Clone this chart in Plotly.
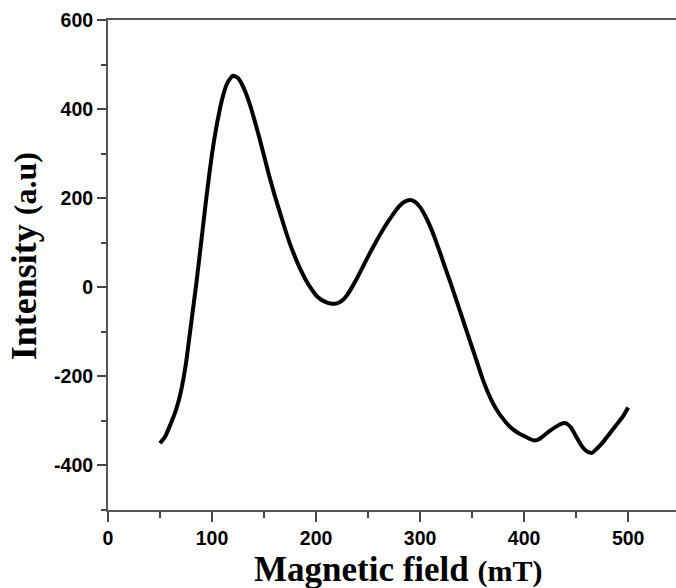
import plotly.graph_objects as go

field_mT = [50, 55, 60, 65, 70, 75, 80, 85, 90, 95, 100, 105, 110, 115, 120, 125, 130, 135, 140, 145,
            150, 155, 160, 165, 170, 175, 180, 185, 190, 195, 200, 205, 210, 215, 220, 225, 230, 235, 240, 245,
            250, 255, 260, 265, 270, 275, 280, 285, 290, 295, 300, 305, 310, 315, 320, 325, 330, 335, 340, 345,
            350, 355, 360, 365, 370, 375, 380, 385, 390, 395, 400, 405, 410, 415, 420, 425, 430, 435, 440, 445,
            450, 455, 460, 465, 470, 475, 480, 485, 490, 495, 500]
intensity = [-350, -335, -308, -278, -235, -170, -80, 10, 110, 210, 300, 370, 425, 460, 475, 470, 450, 420, 382, 340,
             295, 250, 208, 170, 132, 97, 67, 40, 17, -2, -18, -28, -34, -37, -36, -30, -17, 2, 23, 46,
             69, 91, 112, 132, 150, 167, 182, 192, 196, 192, 180, 160, 135, 105, 72, 38, 5, -30, -65, -100,
             -135, -170, -205, -235, -260, -280, -296, -310, -320, -328, -334, -340, -344, -340, -331, -322, -314, -307, -305, -315,
             -335, -355, -368, -372, -362, -350, -335, -320, -305, -290, -270]

x_ticks = [0, 100, 200, 300, 400, 500]
y_ticks = [-400, -200, 0, 200, 400, 600]
x_title = "<b>Magnetic field <span style='font-size:30px'>(mT)</span></b>"
y_title = "<b>Intensity <span style='font-size:32px'>(a.u)</span></b>"

fig = go.Figure()
fig.add_trace(go.Scatter(x=field_mT, y=intensity, mode="lines",
                         line=dict(color="black", width=4, shape="spline", smoothing=0.5),
                         showlegend=False, hoverinfo="skip"))

axis_font = dict(family="Liberation Sans, Arial, sans-serif", size=19.5, color="black")
serif = "Liberation Serif, Times New Roman, serif"

fig.update_layout(
    width=676, height=588,
    margin=dict(l=108, r=0, t=20, b=78, autoexpand=False),
    paper_bgcolor="white", plot_bgcolor="white",
    xaxis=dict(range=[0, 546], tickvals=x_ticks, ticktext=[f"<b>{v}</b>" for v in x_ticks],
               automargin=False,
               showline=True, linecolor="#555555", linewidth=2, mirror=True,
               ticks="outside", ticklen=10, tickwidth=2, tickcolor="#444444",
               minor=dict(dtick=50, tick0=0, ticks="outside", ticklen=6, tickwidth=2, tickcolor="#444444"),
               showgrid=False, zeroline=False, tickfont=axis_font),
    yaxis=dict(range=[-500, 600], tickvals=y_ticks, ticktext=[f"<b>{v}</b>" for v in y_ticks],
               automargin=False,
               showline=True, linecolor="#555555", linewidth=2, mirror=False,
               ticks="outside", ticklen=9, tickwidth=2, tickcolor="#444444",
               minor=dict(dtick=100, tick0=0, ticks="outside", ticklen=5, tickwidth=2, tickcolor="#444444"),
               showgrid=False, zeroline=False, tickfont=axis_font),
    annotations=[
        dict(text=x_title, xref="paper", yref="paper", x=0.512, y=0, xanchor="center", yanchor="top",
             yshift=-38, showarrow=False, font=dict(family=serif, size=35, color="black")),
        dict(text=y_title, xref="paper", yref="paper", x=0, y=0.518, xanchor="center", yanchor="middle",
             xshift=-84, textangle=-90, showarrow=False, font=dict(family=serif, size=36, color="black")),
    ],
)

fig.write_html("out.html", config={"displayModeBar": False},
               post_script="document.body.style.margin='0';")
